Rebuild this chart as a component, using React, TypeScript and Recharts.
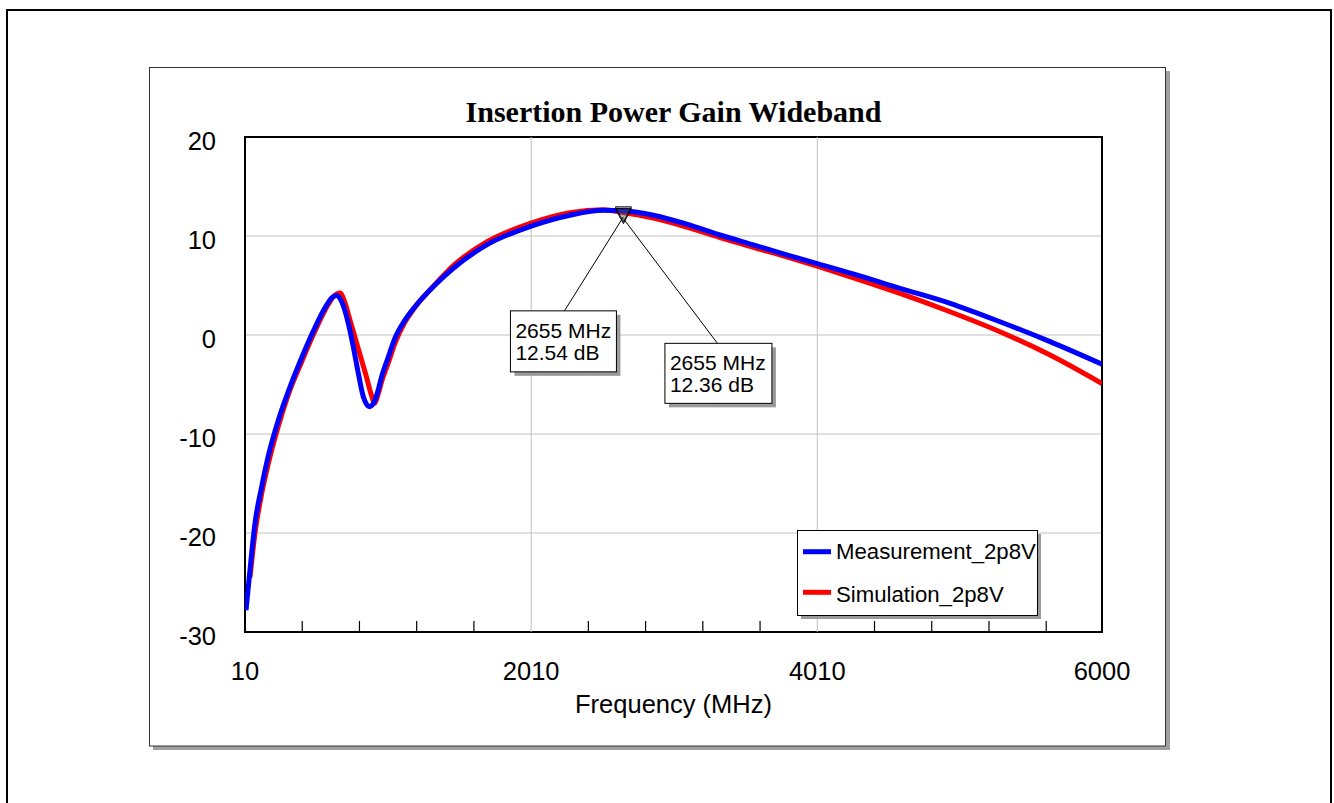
import React from 'react';
import {
  LineChart,
  Line,
  XAxis,
  YAxis,
  CartesianGrid,
  ReferenceLine,
  ReferenceArea,
  ReferenceDot,
  Legend,
  Label,
} from 'recharts';

// ---------- data ----------
const measFreq = [17, 45, 80, 127, 173, 243, 313, 406, 499, 569, 620, 650, 686, 732, 767, 802, 837, 860, 879, 898, 918, 940, 965, 1012, 1058, 1128, 1198, 1338, 1466, 1699, 2010, 2281, 2514, 2655, 2864, 3097, 3330, 3563, 3796, 4010, 4300, 4588, 4938, 5287, 5637, 6000];
const measGain = [-27.8, -23.7, -19, -15.3, -12.2, -8.6, -5.7, -2.3, 0.75, 2.75, 3.8, 4.0, 3.36, 1.18, -1.18, -3.87, -6.23, -7.0, -7.24, -7.1, -6.6, -5.6, -4.2, -2.2, -0.33, 1.5, 2.86, 5.05, 6.74, 9.1, 11.0, 12.1, 12.6, 12.54, 12.1, 11.2, 10.1, 9.1, 8.1, 7.2, 6.0, 4.72, 3.2, 1.34, -0.67, -2.95];

const simFreq = [45, 80, 127, 173, 243, 313, 406, 499, 569, 630, 674, 710, 744, 790, 826, 860, 884, 905, 914, 940, 965, 1012, 1058, 1128, 1198, 1338, 1466, 1699, 2010, 2281, 2514, 2655, 2864, 3097, 3330, 3563, 3796, 4010, 4300, 4588, 4938, 5287, 5637, 6000];
const simGain = [-24.5, -20, -16, -13, -9.2, -6, -2.7, 0.4, 2.5, 3.9, 4.25, 3.2, 1.5, -0.8, -2.6, -4.3, -5.6, -6.6, -6.9, -6.0, -4.7, -2.8, -0.84, 1.3, 2.8, 5.1, 7.0, 9.4, 11.3, 12.35, 12.65, 12.36, 11.8, 10.9, 9.85, 8.85, 7.9, 6.95, 5.6, 4.2, 2.35, 0.33, -2.02, -4.9];

const seriesNames = ['Measurement_2p8V', 'Simulation_2p8V'];
const seriesColors = ['#0000ff', '#ff0000'];

const xTicks = [10, 410, 810, 1210, 1610, 2010, 2410, 2810, 3210, 3610, 4010, 4410, 4810, 5210, 5610, 6000];
const xLabelTicks = [10, 2010, 4010, 6000];
const xGridLines = [2010, 4010];
const yTicks = [-30, -20, -10, 0, 10, 20];
const xDomain = [10, 6000];
const yDomain = [-30, 20];

const markerFreq = 2655;
const markerMeas = 12.54;
const markerSim = 12.36;

const titleText = 'Insertion Power Gain Wideband';
const xTitle = 'Frequency (MHz)';

const measData = measFreq.map((f, i) => ({ f, g: measGain[i] }));
const simData = simFreq.map((f, i) => ({ f, g: simGain[i] }));

const FONT = '"Liberation Sans", Arial, sans-serif';
const AXIS_FS = 25.5;

// ---------- components ----------
const XTick = (props: any) => {
  const { x, y, payload } = props;
  const v = payload.value;
  if (xLabelTicks.includes(v)) {
    return (
      <text x={x} y={y + 48} textAnchor="middle" fontSize={AXIS_FS} fontFamily={FONT} fill="#000">
        {v}
      </text>
    );
  }
  return <line x1={x} x2={x} y1={y} y2={y - 11} stroke="#000" strokeWidth={1.2} />;
};

const YTick = (props: any) => {
  const { x, y, payload } = props;
  return (
    <text x={x} y={y + 13} textAnchor="end" fontSize={AXIS_FS} fontFamily={FONT} fill="#000">
      {payload.value}
    </text>
  );
};

const makeMarker = (
  line1: string,
  line2: string,
  bx: number,
  by: number,
  bw: number,
  bh: number,
  lx: number
) => (props: any) => {
  const { cx, cy } = props;
  return (
    <g>
      <line x1={cx} y1={cy + 6} x2={cx + lx} y2={cy + by} stroke="#000" strokeWidth={1} />
      <rect x={cx + bx + 4} y={cy + by + 4} width={bw} height={bh} fill="#9a9a9a" />
      <rect x={cx + bx} y={cy + by} width={bw} height={bh} fill="#fff" stroke="#000" strokeWidth={1} />
      <text x={cx + bx + 5} y={cy + by + 27} fontSize={21} fontFamily={FONT} fill="#000">
        {line1}
      </text>
      <text x={cx + bx + 5} y={cy + by + 49} fontSize={21} fontFamily={FONT} fill="#000">
        {line2}
      </text>
      <polygon
        points={`${cx - 8},${cy - 4} ${cx + 8},${cy - 4} ${cx},${cy + 11}`}
        fill="#555"
        fillOpacity={0.25}
        stroke="#000"
        strokeWidth={1}
      />
    </g>
  );
};

const MeasMarker = makeMarker(`${markerFreq} MHz`, `${markerMeas.toFixed(2)} dB`, -113, 100, 106, 61, -59);
const SimMarker = makeMarker(`${markerFreq} MHz`, `${markerSim.toFixed(2)} dB`, 41.5, 130.7, 107, 60, 94);

const LegendBox = () => (
  <svg width={250} height={95} style={{ display: 'block', overflow: 'visible' }}>
    <rect x={4} y={4} width={240} height={85} fill="#9a9a9a" />
    <rect x={0.5} y={0.5} width={240} height={85} fill="#fff" stroke="#000" strokeWidth={1} />
    {seriesNames.map((name, i) => (
      <g key={name}>
        <line x1={6} x2={34} y1={21.7 + i * 40.6} y2={21.7 + i * 40.6} stroke={seriesColors[i]} strokeWidth={5} />
        <text x={39} y={28.8 + i * 43} fontSize={22.2} fontFamily={FONT} fill="#000">
          {name}
        </text>
      </g>
    ))}
  </svg>
);

export default function App() {
  return (
    <div style={{ position: 'fixed', left: 0, top: 0, width: 1334, height: 803, background: '#fff', overflow: 'hidden' }}>
      <svg width={1334} height={803} style={{ position: 'absolute', left: 0, top: 0 }}>
        <rect x={7} y={10} width={1324} height={900} fill="none" stroke="#000" strokeWidth={2} />
        <rect x={153} y={71} width={1017} height={679} fill="#a0a0a0" />
        <rect x={149.5} y={67.5} width={1016} height={678.5} fill="#fff" stroke="#333" strokeWidth={1} />
        <text x={673.5} y={122} textAnchor="middle" fontSize={30} fontWeight="bold" fontFamily='"Liberation Serif", "Times New Roman", serif' fill="#000">
          {titleText}
        </text>
      </svg>
      <div style={{ position: 'absolute', left: 0, top: 0 }}>
        <LineChart width={1334} height={803} margin={{ top: 137, right: 232, bottom: 111, left: 185 }}>
          <CartesianGrid vertical={false} stroke="#c0c0c0" strokeWidth={1} />
          {xGridLines.map((v) => (
            <ReferenceLine key={v} x={v} stroke="#c0c0c0" strokeWidth={1} />
          ))}
          <XAxis
            dataKey="f"
            type="number"
            domain={xDomain}
            ticks={xTicks}
            interval={0}
            allowDataOverflow
            axisLine={false}
            tickLine={false}
            tickSize={0}
            tickMargin={0}
            height={60}
            tick={<XTick />}
          >
            <Label
              content={(p: any) => {
                const vb = p.viewBox;
                return (
                  <text x={vb.x + vb.width / 2} y={vb.y + 81} textAnchor="middle" fontSize={AXIS_FS} fontFamily={FONT} fill="#000">
                    {xTitle}
                  </text>
                );
              }}
            />
          </XAxis>
          <YAxis
            type="number"
            domain={yDomain}
            ticks={yTicks}
            interval={0}
            allowDataOverflow
            axisLine={false}
            tickLine={false}
            tickSize={0}
            tickMargin={29}
            width={60}
            tick={<YTick />}
          />
          <ReferenceArea x1={10} x2={6000} y1={-30} y2={20} fill="none" stroke="#000" strokeWidth={2} />
          <Line
            data={simData}
            dataKey="g"
            name={seriesNames[1]}
            type="monotone"
            stroke={seriesColors[1]}
            strokeWidth={5}
            dot={false}
            activeDot={false}
            isAnimationActive={false}
          />
          <Line
            data={measData}
            dataKey="g"
            name={seriesNames[0]}
            type="monotone"
            stroke={seriesColors[0]}
            strokeWidth={5}
            dot={false}
            activeDot={false}
            isAnimationActive={false}
          />
          <ReferenceDot x={markerFreq} y={markerMeas} shape={MeasMarker} />
          <ReferenceDot x={markerFreq} y={markerSim} shape={SimMarker} />
          <Legend
            layout="horizontal"
            verticalAlign="middle"
            align="center"
            wrapperStyle={{ left: 797, top: 530, width: 250, height: 95 }}
            content={() => <LegendBox />}
          />
        </LineChart>
      </div>
    </div>
  );
}
